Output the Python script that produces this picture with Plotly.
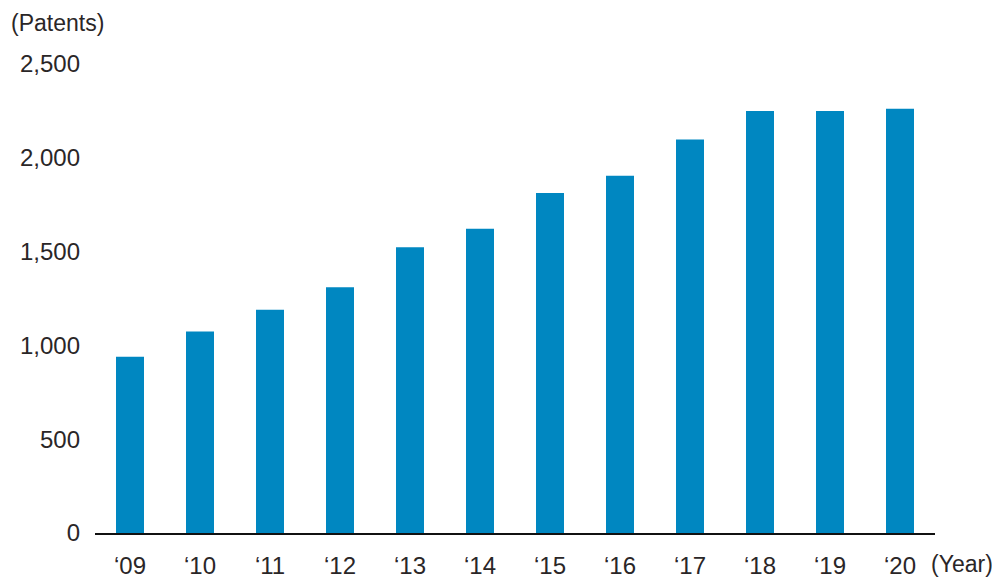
import plotly.graph_objects as go

years = ["‘09", "‘10", "‘11", "‘12", "‘13", "‘14", "‘15", "‘16", "‘17", "‘18", "‘19", "‘20"]
patents = [940, 1074, 1190, 1310, 1523, 1622, 1812, 1904, 2097, 2250, 2250, 2262]
y_ticks = [0, 500, 1000, 1500, 2000, 2500]
y_tick_text = ["0", "500", "1,000", "1,500", "2,000", "2,500"]

FONT = "Liberation Sans"
TEXT = "#2a2627"

fig = go.Figure()
fig.add_trace(go.Bar(
    x=years, y=patents, width=0.4,
    marker=dict(color="#0087c1", line=dict(width=0)),
    hoverinfo="x+y",
))

fig.update_xaxes(
    type="category", range=[-0.5, 11.5],
    showline=True, linecolor="#111", linewidth=1.5,
    showgrid=False, zeroline=False, ticks="",
    ticklabelstandoff=10,
    tickfont=dict(family=FONT, size=24, color=TEXT),
)
fig.update_yaxes(
    range=[0, 2500], tickvals=y_ticks, ticktext=y_tick_text,
    showline=False, showgrid=False, zeroline=False, ticks="",
    ticklabelstandoff=14,
    tickfont=dict(family=FONT, size=24, color=TEXT),
)

fig.add_annotation(text="(Patents)", xref="paper", yref="paper",
                   x=-0.102, y=1.088, xanchor="left", yanchor="middle",
                   showarrow=False, font=dict(family=FONT, size=23, color=TEXT))
fig.add_annotation(text="(Year)", xref="paper", yref="paper",
                   x=0.993, y=-0.066, xanchor="left", yanchor="middle",
                   showarrow=False, font=dict(family=FONT, size=23, color=TEXT))

fig.update_layout(
    width=1000, height=583,
    margin=dict(l=87, r=73, t=56, b=50),
    paper_bgcolor="white", plot_bgcolor="white",
    showlegend=False, bargap=0.6,
)
fig.write_html("out.html")
